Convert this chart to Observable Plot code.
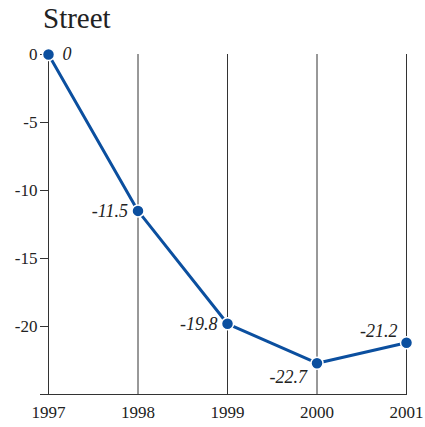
<!DOCTYPE html>
<html>
<head>
<meta charset="utf-8">
<script src="https://cdn.jsdelivr.net/npm/d3@7"></script>
<script src="https://cdn.jsdelivr.net/npm/@observablehq/plot@0.6"></script>
<style>
  html, body { margin: 0; padding: 0; background: #fff; }
  #wrap { width: 425px; font-family: "Liberation Serif", "DejaVu Serif", serif; }
  #title { height: 36px; font-size: 29px; line-height: 36px; padding-left: 43px; color: #222; }
  svg { display: block; }
  #chart svg, #chart svg text { font-family: "Liberation Serif", "DejaVu Serif", serif !important; }
</style>
</head>
<body>
<div id="wrap">
  <div id="title">Street</div>
  <div id="chart"></div>
</div>
<script>
const years = [1997, 1998, 1999, 2000, 2001];
const values = [0, -11.5, -19.8, -22.7, -21.2];
const yTicks = [0, -5, -10, -15, -20];
const yDomain = [-25, 0];

const data = years.map((year, i) => ({year, value: values[i], i}));
const blue = "#0b4f9f";
const font = "Liberation Serif, DejaVu Serif, serif";

// label placement by point index (style, not data)
const place = [
  {dx: 14, dy: 0, anchor: "start"},
  {dx: -10, dy: 0, anchor: "end"},
  {dx: -10, dy: 0, anchor: "end"},
  {dx: -10, dy: 14, anchor: "end"},
  {dx: -9, dy: -12, anchor: "end"}
];

const labelMarks = data.map((d, k) => Plot.text([d], {
  x: "year", y: "value",
  text: v => String(v.value),
  dx: place[k].dx, dy: place[k].dy,
  textAnchor: place[k].anchor,
  fontStyle: "italic",
  fontSize: 18,
  fontFamily: font,
  fill: "#222"
}));

const chart = Plot.plot({
  width: 425,
  height: 391,
  marginTop: 18,
  marginBottom: 33,
  marginLeft: 48,
  marginRight: 19,
  style: {fontFamily: font, background: "#fff", color: "#222"},
  x: {domain: [1997, 2001], label: null},
  y: {domain: yDomain, label: null},
  marks: [
    Plot.ruleX(years, {stroke: "#333", strokeWidth: 1}),
    Plot.ruleY([yDomain[0]], {stroke: "#333", strokeWidth: 1.2, insetLeft: -8, insetRight: -1}),
    Plot.axisY({ticks: yTicks, tickSize: 8, tickPadding: 3, fontSize: 17, fontFamily: font, label: null, tickFormat: d => String(d), stroke: "#333", strokeOpacity: 1}),
    Plot.axisX({ticks: years, tickSize: 0, tickPadding: 11, fontSize: 17, fontFamily: font, label: null, tickFormat: d => String(d)}),
    Plot.line(data, {x: "year", y: "value", stroke: blue, strokeWidth: 3}),
    Plot.dot(data, {x: "year", y: "value", r: 6, fill: blue, stroke: "#fff", strokeWidth: 1.5}),
    ...labelMarks
  ]
});
document.getElementById("chart").appendChild(chart);
</script>
</body>
</html>
